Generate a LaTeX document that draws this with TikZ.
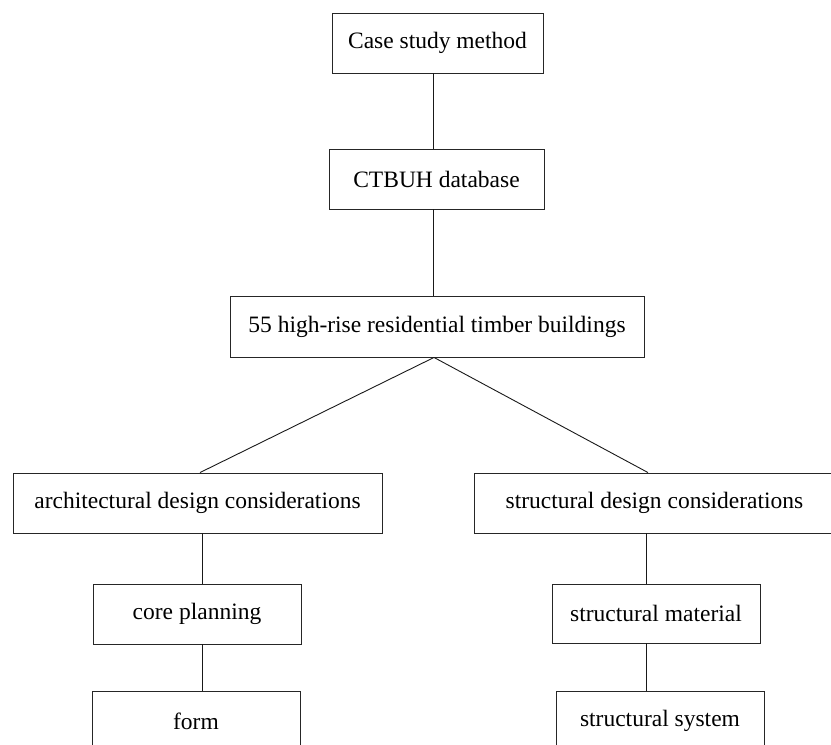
\documentclass[tikz,border=0pt]{standalone}
\usepackage{fontspec}
\setmainfont{Liberation Serif}
\tikzset{
  box/.style={draw=black!85, line width=0.9pt, inner sep=0pt, anchor=center,
    font=\fontsize{23.5}{28}\selectfont},
  link/.style={draw=black!90, line width=0.9pt}
}
\begin{document}
\begin{tikzpicture}[x=1pt,y=-1pt]
\useasboundingbox (0,0) rectangle (831,745);
\clip (0,0) rectangle (831,745);
\node[box, minimum width=211pt, minimum height=60pt] (case) at (437.5,43) {Case study method};
\node[box, minimum width=215pt, minimum height=60pt] (ctbuh) at (436.5,179) {CTBUH database};
\node[box, minimum width=414pt, minimum height=61pt] (tall) at (437,326.5) {55 high-rise residential timber buildings};
\node[box, minimum width=369pt, minimum height=60pt] (arch) at (197.5,503) {architectural design considerations};
\node[box, minimum width=361pt, minimum height=60pt] (struct) at (654.5,503) {structural design considerations};
\node[box, minimum width=208pt, minimum height=60pt] (core) at (197,614) {core planning};
\node[box, minimum width=208pt, minimum height=59pt] (mat) at (656,613.5) {structural material};
\node[box, minimum width=208pt, minimum height=60pt] (form) at (196,721) {form};
\node[box, minimum width=208pt, minimum height=60pt] (sys) at (660,721) {structural system};
\draw[link] ([xshift=-4.5pt]case.south) -- ([xshift=-3.5pt]ctbuh.north);
\draw[link] ([xshift=-3.5pt]ctbuh.south) -- ([xshift=-4pt]tall.north);
\draw[link] ([xshift=-3pt]tall.south) -- ([xshift=2.5pt]arch.north);
\draw[link] ([xshift=-3pt]tall.south) -- ([xshift=-6.5pt]struct.north);
\draw[link] ([xshift=4.5pt]arch.south) -- ([xshift=5pt]core.north);
\draw[link] ([xshift=5pt]core.south) -- ([xshift=6pt]form.north);
\draw[link] ([xshift=-8.5pt]struct.south) -- ([xshift=-10pt]mat.north);
\draw[link] ([xshift=-10pt]mat.south) -- ([xshift=-14pt]sys.north);
\end{tikzpicture}
\end{document}
